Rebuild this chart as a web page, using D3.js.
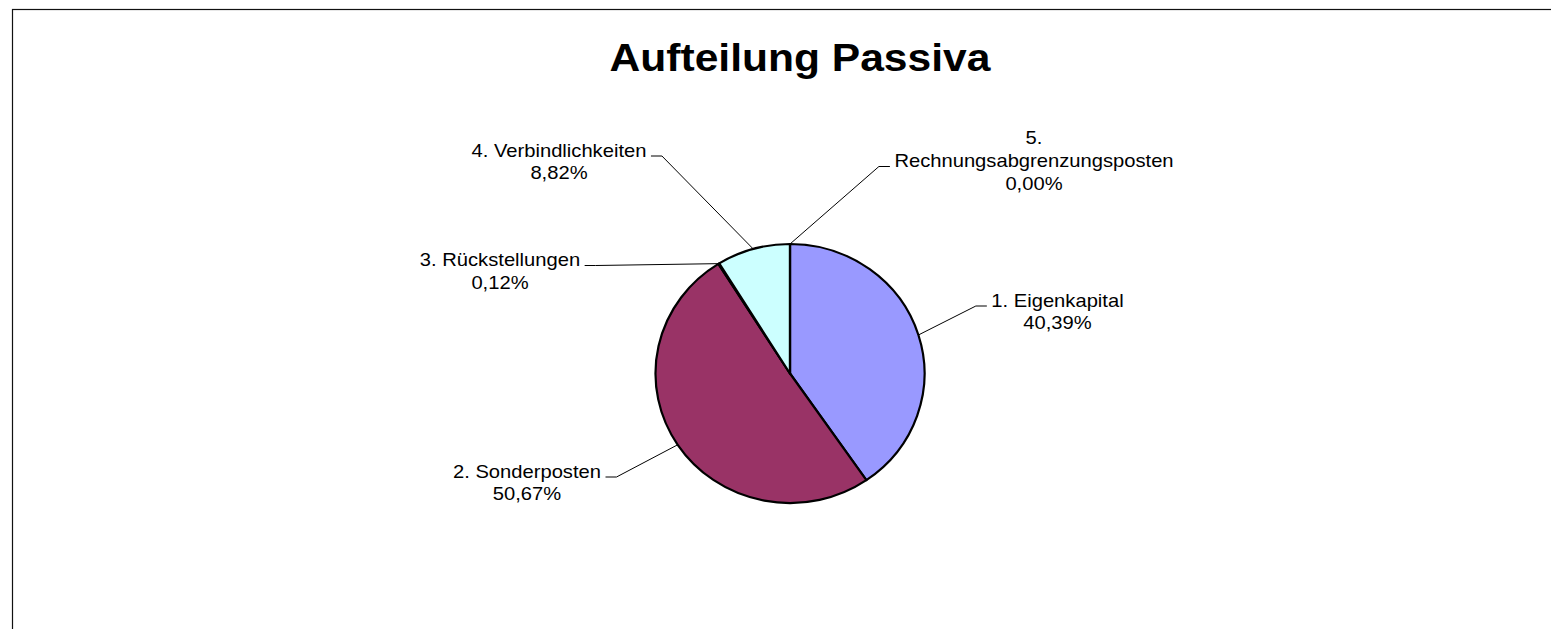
<!DOCTYPE html>
<html>
	<head>
		<meta charset="utf-8">
		<title>Aufteilung Passiva</title>
		<script src="https://d3js.org/d3.v7.min.js"></script>
		<style>
			body { margin: 0; background: white; }
			#plot { width: 1551px; height: 629px; }
			text { font-family: Arial, 'Liberation Sans', sans-serif; fill: black; }
		</style>
	</head>
	<body>
		<div id='plot'></div>
		<script>
			//DATA
			var categories = ['1. Eigenkapital', '2. Sonderposten', '3. Rückstellungen', '4. Verbindlichkeiten', '5. Rechnungsabgrenzungsposten']
			var shares = [40.39, 50.67, 0.12, 8.82, 0.00]
			var colors = ['#9999FF', '#993366', '#FFFFCC', '#CCFFFF', '#660066']
			var title = 'Aufteilung Passiva'

			//LAYOUT (label block centres, relative to the pie centre)
			var labelOffsets = [[267.5, -67], [-263, 104], [-290, -107.5], [-231, -217], [244, -206.5]]

			var width = 1551, height = 629
			var cx = 790, cy = 373.5, rx = 134.5, ry = 129.5
			var fontSize = 18.5, lineH = 22.7, stretch = 1.09

			var svg = d3.select('#plot').append('svg')
				.attr('width', width)
				.attr('height', height)

			//chart frame (runs past the window on right and bottom)
			svg.append('rect')
				.attr('x', 12.5)
				.attr('y', 9.5)
				.attr('width', 1600)
				.attr('height', 700)
				.attr('fill', 'white')
				.attr('stroke', '#111')
				.attr('stroke-width', 1.2)

			var de = d3.formatLocale({decimal: ',', thousands: '.', grouping: [3], currency: ['', ' €']})
			var pct = de.format('.2%')

			var data = categories.map(function(c, i) { return {name: c, value: shares[i], color: colors[i]} })
			var total = d3.sum(shares)

			var pie = d3.pie().sort(null).value(function(d) { return d.value })
			var arcs = pie(data)
			var arc = d3.arc().innerRadius(0).outerRadius(rx)

			//stretched text helper
			function stretchText(sel, s) {
				sel.each(function() {
					var w = this.getComputedTextLength()
					d3.select(this).attr('textLength', w * s).attr('lengthAdjust', 'spacingAndGlyphs')
				})
			}

			//TITLE
			svg.append('text')
				.attr('x', 800)
				.attr('y', 71)
				.attr('text-anchor', 'middle')
				.style('font-size', '38px')
				.style('font-weight', 'bold')
				.text(title)
				.call(stretchText, 1.12)

			//PIE
			svg.append('g')
				.attr('transform', 'translate(' + cx + ',' + cy + ') scale(1,' + (ry / rx) + ')')
				.selectAll('path')
				.data(arcs)
				.enter()
				.append('path')
					.attr('d', arc)
					.attr('fill', function(d) { return d.data.color })
					.attr('stroke', 'black')
					.attr('stroke-width', 2.2)
					.attr('stroke-linejoin', 'round')
					.attr('vector-effect', 'non-scaling-stroke')

			//LABELS
			function measure(str) {
				var t = svg.append('text').style('font-size', fontSize + 'px').text(str)
				var w = t.node().getComputedTextLength() * stretch
				t.remove()
				return w
			}

			var labels = svg.append('g')
			arcs.forEach(function(d, i) {
				var name = d.data.name
				var nameLines = [name]
				if (measure(name) > 290) {
					var k = name.indexOf(' ')
					nameLines = [name.slice(0, k), name.slice(k + 1)]
				}
				var lines = nameLines.concat([pct(d.data.value / total)])
				var lx = cx + labelOffsets[i][0]
				var ly = cy + labelOffsets[i][1]
				var firstY = ly - (nameLines.length - 1) * lineH
				var maxW = d3.max(lines, measure)

				labels.selectAll(null)
					.data(lines)
					.enter()
					.append('text')
						.attr('x', lx)
						.attr('y', function(t, j) { return firstY + j * lineH })
						.attr('text-anchor', 'middle')
						.style('font-size', fontSize + 'px')
						.text(function(t) { return t })
						.call(stretchText, stretch)

				//leader line: pie edge -> elbow -> short horizontal
				var a = (d.startAngle + d.endAngle) / 2
				var px = cx + rx * Math.sin(a), py = cy - ry * Math.cos(a)
				var right = lx > cx
				var edge = right ? lx - maxW / 2 : lx + maxW / 2
				var elbowX = right ? edge - 15.5 : edge + 15.5
				var endX = right ? edge - 4.5 : edge + 4.5
				labels.append('path')
					.attr('d', d3.line()([[px, py], [elbowX, ly - 0.5], [endX, ly - 0.5]]))
					.attr('fill', 'none')
					.attr('stroke', 'black')
					.attr('stroke-width', 1)
			})
		</script>
	</body>
</html>
